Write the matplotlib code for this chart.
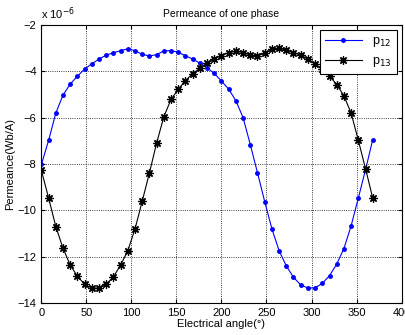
import numpy as np
import matplotlib.pyplot as plt

plt.rcParams['font.family'] = ['Liberation Sans', 'DejaVu Sans']

# Electrical angle (deg), sampled every 8 degrees
angle = np.arange(0, 369, 8)

# Permeance values, in units of 1e-6 Wb/A
p12 = [-8.02, -6.98, -5.80, -5.03, -4.55, -4.21, -3.90, -3.68, -3.47, -3.30,
       -3.20, -3.11, -3.03, -3.11, -3.27, -3.34, -3.28, -3.12, -3.11, -3.18,
       -3.33, -3.47, -3.65, -3.85, -4.09, -4.42, -4.77, -5.27, -6.00, -7.16,
       -8.38, -9.62, -10.80, -11.74, -12.40, -12.89, -13.22, -13.35, -13.35, -13.15,
       -12.82, -12.32, -11.65, -10.67, -9.47, -8.25, -6.95]
p13 = [-8.28, -9.47, -10.70, -11.64, -12.36, -12.85, -13.19, -13.36, -13.36, -13.19,
       -12.87, -12.36, -11.74, -10.80, -9.60, -8.38, -7.09, -5.96, -5.21, -4.78,
       -4.40, -4.10, -3.87, -3.64, -3.45, -3.33, -3.19, -3.13, -3.19, -3.30,
       -3.32, -3.23, -3.05, -3.01, -3.08, -3.20, -3.30, -3.48, -3.69, -3.92,
       -4.21, -4.57, -5.06, -5.80, -6.98, -8.20, -9.47]

fig = plt.figure(figsize=(4.06, 3.35), dpi=100)
ax = fig.add_axes([0.102, 0.0955, 0.887, 0.83])

ax.plot(angle, p12, color='blue', marker='.', markersize=5, linewidth=0.8, label='p$_{12}$')
ax.plot(angle, p13, color='black', marker=(8, 2, 0), markersize=6, markeredgewidth=0.9,
        linewidth=0.8, label='p$_{13}$')

ax.set_xlim(0, 400)
ax.set_ylim(-14, -2)
ax.set_xticks(np.arange(0, 401, 50))
ax.set_yticks(np.arange(-14, -1, 2))
ax.tick_params(direction='in', labelsize=8, length=3, top=True, right=True)
ax.grid(True, linestyle=':', color='black', linewidth=0.6)

ax.set_title('Permeance of one phase', fontsize=7.5, pad=6)
ax.set_xlabel('Electrical angle(°)', fontsize=8, labelpad=1)
ax.set_ylabel('Permeance(Wb/A)', fontsize=8, labelpad=2)
ax.text(0.0, 1.01, 'x 10$^{-6}$', transform=ax.transAxes, fontsize=8, va='bottom')

leg = ax.legend(loc='upper right', fontsize=9, fancybox=False, framealpha=1,
                edgecolor='black', borderaxespad=0.4, handlelength=3.0)
leg.get_frame().set_linewidth(0.8)

fig.savefig('out.png', dpi=100)
